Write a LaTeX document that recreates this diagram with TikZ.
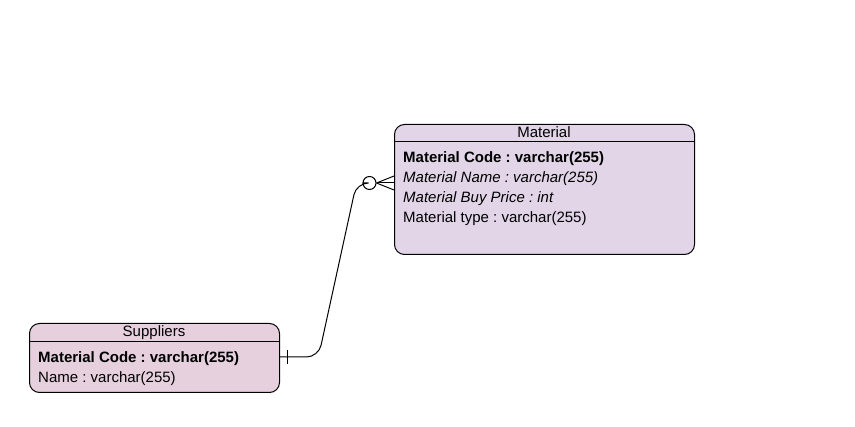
\documentclass[tikz,border=0pt]{standalone}
\usepackage{fontspec}
\setmainfont{Liberation Sans}
\frenchspacing
\usetikzlibrary{calc}
\definecolor{materialfill}{HTML}{E1D5E7}
\definecolor{supplierfill}{HTML}{E6D0DE}
\tikzstyle{entity}=[draw,rounded corners=10pt,line width=1pt,anchor=north west,inner sep=0pt]
\tikzstyle{header}=[font=\fontsize{15}{18}\selectfont,anchor=base,inner sep=0pt]
\tikzstyle{attr}=[font=\fontsize{15}{18}\selectfont,anchor=base west,inner sep=0pt]
\tikzstyle{link}=[draw,line width=1pt]
\begin{document}
\begin{tikzpicture}[x=1pt,y=-1pt]
\useasboundingbox (0,0) rectangle (855,427);

    % Material table
    \node[entity,fill=materialfill,minimum width=300pt,minimum height=130pt] (material) at (394,124) {};
    \draw[line width=0.8pt] (material.west |- 0,141) -- (material.east |- 0,141);
    \node[header] (materialtitle) at (544,138) {Material};
    \foreach \y/ \name/ \txt in {{163/mcode/\bfseries Material Code : varchar(255)}, {183/mname/\itshape Material Name : varchar(255)}, {203/mprice/\itshape Material Buy Price : int}, {223/mtype/Material type : varchar(255)}}
        \node[attr] (\name) at (403,\y) {\txt};

    % Suppliers table
    \node[entity,fill=supplierfill,minimum width=250pt,minimum height=69pt] (suppliers) at (29,323) {};
    \draw[line width=0.8pt] (suppliers.west |- 0,341) -- (suppliers.east |- 0,341);
    \node[header] (supplierstitle) at (154,336.5) {Suppliers};
    \foreach \y/ \name/ \txt in {{362.5/scode/\bfseries Material Code : varchar(255)}, {382.5/sname/Name : varchar(255)}}
        \node[attr] (\name) at (38,\y) {\txt};

    % one supplier -- zero or many materials
    \coordinate (supend) at (suppliers.east |- 0,357);
    \node[circle,draw,fill=white,line width=1pt,minimum size=13pt,inner sep=0pt] (opt) at (369.5,183) {};
    \coordinate (crow) at (material.west |- opt);
    \draw[link,rounded corners=12pt] (supend) -- (318.5,357) -- (356.5,183) -- (opt.west);
    \draw[link] ($(supend)+(7,-7)$) -- ($(supend)+(7,7)$);
    \foreach \dy in {-7,0,7}
        \draw[link] (opt.east) -- ($(crow)+(0,\dy)$);

\end{tikzpicture}
\end{document}
